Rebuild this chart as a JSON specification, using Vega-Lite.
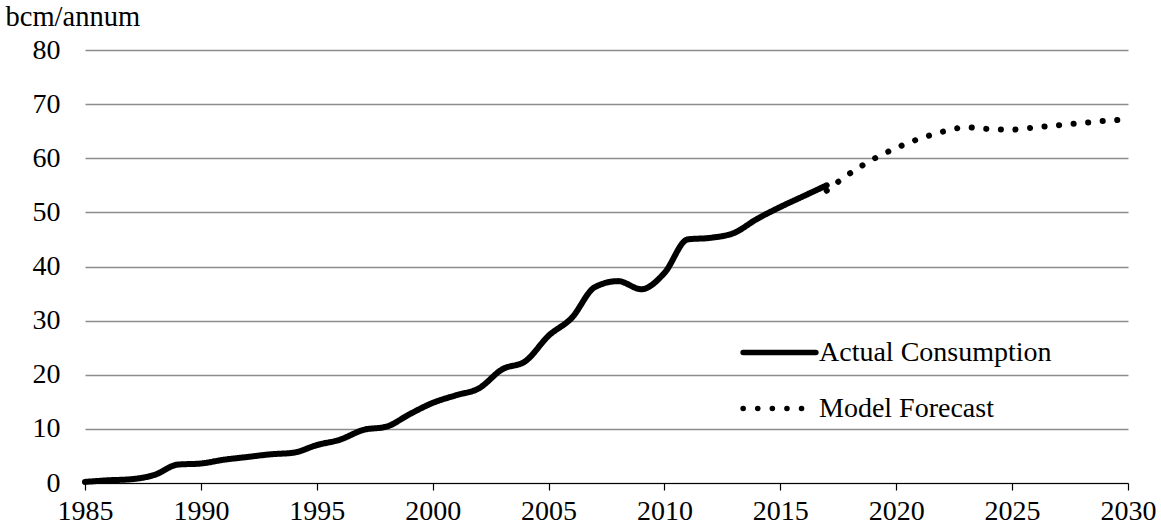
{
  "$schema": "https://vega.github.io/schema/vega-lite/v6.json",
  "width": 1043,
  "height": 433,
  "autosize": {"type": "none"},
  "padding": {"left": 85, "top": 50, "right": 33, "bottom": 46},
  "background": "white",
  "config": {
    "font": "Liberation Serif",
    "view": {"stroke": null},
    "axis": {"labelFont": "Liberation Serif", "labelFontSize": 28, "labelColor": "black", "titleFont": "Liberation Serif", "titleFontSize": 28.5, "titleColor": "black", "titleFontWeight": "normal"},
    "legend": {"labelFont": "Liberation Serif", "labelFontSize": 28, "labelColor": "black", "labelLimit": 0}
  },
  "data": {
    "values": [
      {"year": 1985, "value": 0.2, "series": "Actual Consumption"},
      {"year": 1986, "value": 0.5, "series": "Actual Consumption"},
      {"year": 1987, "value": 0.7, "series": "Actual Consumption"},
      {"year": 1988, "value": 1.5, "series": "Actual Consumption"},
      {"year": 1989, "value": 3.4, "series": "Actual Consumption"},
      {"year": 1990, "value": 3.6, "series": "Actual Consumption"},
      {"year": 1991, "value": 4.3, "series": "Actual Consumption"},
      {"year": 1992, "value": 4.8, "series": "Actual Consumption"},
      {"year": 1993, "value": 5.3, "series": "Actual Consumption"},
      {"year": 1994, "value": 5.6, "series": "Actual Consumption"},
      {"year": 1995, "value": 7.0, "series": "Actual Consumption"},
      {"year": 1996, "value": 8.0, "series": "Actual Consumption"},
      {"year": 1997, "value": 9.8, "series": "Actual Consumption"},
      {"year": 1998, "value": 10.4, "series": "Actual Consumption"},
      {"year": 1999, "value": 12.7, "series": "Actual Consumption"},
      {"year": 2000, "value": 14.8, "series": "Actual Consumption"},
      {"year": 2001, "value": 16.2, "series": "Actual Consumption"},
      {"year": 2002, "value": 17.5, "series": "Actual Consumption"},
      {"year": 2003, "value": 21.0, "series": "Actual Consumption"},
      {"year": 2004, "value": 22.5, "series": "Actual Consumption"},
      {"year": 2005, "value": 27.2, "series": "Actual Consumption"},
      {"year": 2006, "value": 30.5, "series": "Actual Consumption"},
      {"year": 2007, "value": 36.2, "series": "Actual Consumption"},
      {"year": 2008, "value": 37.3, "series": "Actual Consumption"},
      {"year": 2009, "value": 35.8, "series": "Actual Consumption"},
      {"year": 2010, "value": 38.8, "series": "Actual Consumption"},
      {"year": 2011, "value": 45.0, "series": "Actual Consumption"},
      {"year": 2012, "value": 45.3, "series": "Actual Consumption"},
      {"year": 2013, "value": 46.2, "series": "Actual Consumption"},
      {"year": 2014, "value": 48.8, "series": "Actual Consumption"},
      {"year": 2015, "value": 51.0, "series": "Actual Consumption"},
      {"year": 2016, "value": 53.0, "series": "Actual Consumption"},
      {"year": 2017, "value": 55.0, "series": "Actual Consumption"},
      {"year": 2017, "value": 54.0, "series": "Model Forecast"},
      {"year": 2018, "value": 57.2, "series": "Model Forecast"},
      {"year": 2019, "value": 59.8, "series": "Model Forecast"},
      {"year": 2020, "value": 61.9, "series": "Model Forecast"},
      {"year": 2021, "value": 63.6, "series": "Model Forecast"},
      {"year": 2022, "value": 64.9, "series": "Model Forecast"},
      {"year": 2023, "value": 65.7, "series": "Model Forecast"},
      {"year": 2024, "value": 65.4, "series": "Model Forecast"},
      {"year": 2025, "value": 65.3, "series": "Model Forecast"},
      {"year": 2026, "value": 65.7, "series": "Model Forecast"},
      {"year": 2027, "value": 66.1, "series": "Model Forecast"},
      {"year": 2028, "value": 66.5, "series": "Model Forecast"},
      {"year": 2029, "value": 66.9, "series": "Model Forecast"},
      {"year": 2030, "value": 67.2, "series": "Model Forecast"}
    ]
  },
  "mark": {"type": "line", "interpolate": "monotone", "strokeWidth": 6, "strokeCap": "round", "strokeJoin": "round"},
  "encoding": {
    "x": {
      "field": "year", "type": "quantitative",
      "scale": {"domain": [1985, 2030], "nice": false, "zero": false},
      "axis": {"title": null, "values": [1985, 1990, 1995, 2000, 2005, 2010, 2015, 2020, 2025, 2030], "format": "d", "grid": false, "domainColor": "black", "domainWidth": 1.2, "tickColor": "black", "tickWidth": 1.2, "tickSize": 7, "labelPadding": 7, "labelFlush": false, "labelOverlap": false}
    },
    "y": {
      "field": "value", "type": "quantitative",
      "scale": {"domain": [0, 80], "nice": false},
      "axis": {"title": "bcm/annum", "titleAngle": 0, "titleAlign": "left", "titleBaseline": "alphabetic", "titleX": -80, "titleY": -25, "values": [0, 10, 20, 30, 40, 50, 60, 70, 80], "domain": false, "ticks": false, "labelPadding": 25, "grid": true, "gridColor": "#8c8c8c", "gridWidth": 1.5}
    },
    "color": {
      "field": "series", "type": "nominal",
      "scale": {"domain": ["Actual Consumption", "Model Forecast"], "range": ["black", "black"]},
      "legend": {"title": null, "orient": "none", "legendX": 655, "legendY": 263, "symbolType": "stroke", "symbolSize": 5300, "symbolStrokeWidth": 5.5, "rowPadding": 2, "labelOffset": 0, "encode": {"symbols": {"update": {"strokeCap": {"value": "round"}}}}}
    },
    "strokeDash": {
      "field": "series", "type": "nominal",
      "scale": {"domain": ["Actual Consumption", "Model Forecast"], "range": [[1, 0], [0.1, 14.5]]},
      "legend": {"title": null, "orient": "none", "legendX": 655, "legendY": 263, "symbolType": "stroke", "symbolSize": 5300, "symbolStrokeWidth": 5.5, "rowPadding": 2, "labelOffset": 0, "encode": {"symbols": {"update": {"strokeCap": {"value": "round"}}}}}
    }
  }
}
